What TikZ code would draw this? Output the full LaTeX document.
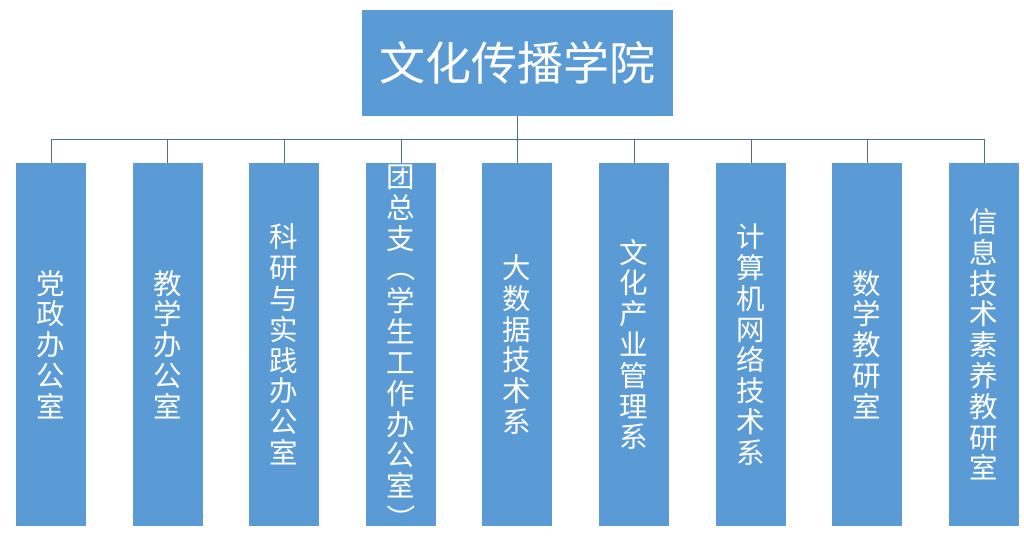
\documentclass[tikz,border=0pt]{standalone}
\usepackage{fontspec}
\newfontfamily\cjk{Noto Sans CJK SC}
\definecolor{boxblue}{HTML}{5B9BD5}
\definecolor{linecol}{HTML}{4A6F93}
\begin{document}
\begin{tikzpicture}[x=1pt,y=-1pt,
  titlebox/.style={fill=boxblue,draw=none,text=white,inner sep=0pt,
    minimum width=311pt,minimum height=106pt,
    font=\cjk\fontsize{46}{50}\selectfont},
  colbox/.style={fill=boxblue,draw=none,text=white,inner sep=0pt,align=center,
    minimum width=70pt,minimum height=363pt,
    font=\cjk\fontsize{28.5}{30.8}\selectfont},
  coltext/.style={text=white,inner sep=0pt,align=center,
    font=\cjk\fontsize{28.5}{30.8}\selectfont},
  conn/.style={draw=linecol,line width=1pt}]
\useasboundingbox[fill=white] (0,0) rectangle (1024,551);
\node[titlebox] (top) at (517.5,63) {文化传播学院};
\coordinate (bus) at (517,139);
\node[colbox] (c1) at (51,344.5) {党\\政\\办\\公\\室};
\node[colbox] (c2) at (167.5,344.5) {教\\学\\办\\公\\室};
\node[colbox] (c3) at (284,344.5) {科\\研\\与\\实\\践\\办\\公\\室};
\node[colbox] (c4) at (401,344.5) {};
\node[coltext] (c4a) at (401,208) {团\\总\\支};
\node[coltext,rotate=-90] (c4p) at (401,268) {（};
\node[coltext] (c4b) at (401,393) {学\\生\\工\\作\\办\\公\\室};
\node[coltext,rotate=-90] (c4q) at (401,519) {）};
\node[colbox] (c5) at (517,344.5) {大\\数\\据\\技\\术\\系};
\node[colbox] (c6) at (634,344.5) {文\\化\\产\\业\\管\\理\\系};
\node[colbox] (c7) at (751,344.5) {计\\算\\机\\网\\络\\技\\术\\系};
\node[colbox] (c8) at (867,344.5) {数\\学\\教\\研\\室};
\node[colbox] (c9) at (984,344.5) {信\\息\\技\\术\\素\\养\\教\\研\\室};
\draw[conn] (top.south) -- (top.south |- bus);
\draw[conn] (c1.north |- bus) -- (c9.north |- bus);
\foreach \c in {c1,c2,c3,c4,c5,c6,c7,c8,c9}
  \draw[conn] (\c.north) -- (\c.north |- bus);
\end{tikzpicture}
\end{document}
